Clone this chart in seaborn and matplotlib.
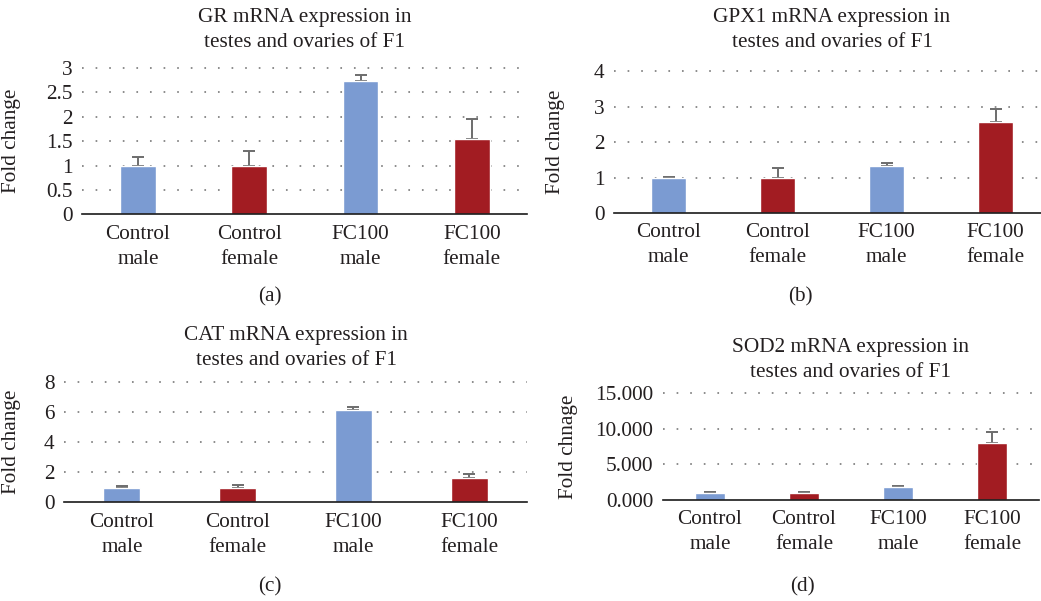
import matplotlib
matplotlib.use("Agg")
import matplotlib.pyplot as plt
import seaborn as sns
import numpy as np

# ---------------- data ----------------
categories = ["Control\nmale", "Control\nfemale", "FC100\nmale", "FC100\nfemale"]
bar_colors = ["#7B9BD2", "#A21C22", "#7B9BD2", "#A21C22"]

gr_values = [1.0, 1.0, 2.73, 1.54]
gr_err = [0.17, 0.30, 0.12, 0.42]
gr_ticks = [0, 0.5, 1, 1.5, 2, 2.5, 3]
gr_ticklabels = ["0", "0.5", "1", "1.5", "2", "2.5", "3"]

gpx1_values = [1.0, 1.0, 1.33, 2.56]
gpx1_err = [0.03, 0.26, 0.09, 0.37]
gpx1_ticks = [0, 1, 2, 3, 4]
gpx1_ticklabels = ["0", "1", "2", "3", "4"]

cat_values = [0.95, 0.95, 6.15, 1.62]
cat_err = [0.15, 0.20, 0.20, 0.25]
cat_ticks = [0, 2, 4, 6, 8]
cat_ticklabels = ["0", "2", "4", "6", "8"]

sod2_values = [1.0, 1.0, 1.8, 8.05]
sod2_err = [0.12, 0.17, 0.20, 1.55]
sod2_ticks = [0, 5, 10, 15]
sod2_ticklabels = ["0.000", "5.000", "10.000", "15.000"]

titles = ["GR mRNA expression in\ntestes and ovaries of F1",
          "GPX1 mRNA expression in\ntestes and ovaries of F1",
          "CAT mRNA expression in\ntestes and ovaries of F1",
          "SOD2 mRNA expression in\ntestes and ovaries of F1"]
ylabels = ["Fold change", "Fold change", "Fold change", "Fold chnage"]
panel_tags = ["(a)", "(b)", "(c)", "(d)"]

# ---------------- style ----------------
sns.set_style("white")
plt.rcParams["font.family"] = ["Liberation Serif", "DejaVu Serif"]
FS = 15.3
TXT = "#231f20"
LSP = 1.42

W, H = 1041, 601
fig = plt.figure(figsize=(W / 100, H / 100), dpi=100)

# layout in pixels: (left, right, y_of_zero, y_of_top)
layouts = [
    (82.4, 527.4, 214.3, 68.0),
    (614.0, 1050.0, 213.0, 71.3),
    (64.0, 527.0, 502.3, 382.0),
    (663.0, 1039.0, 500.0, 393.3),
]
title_pos = [(305, 30), (832, 30), (296, 348), (851, 360)]
tag_pos = [(270, 297), (800, 297), (270, 587), (802, 587)]
ylabel_x = [21, 565, 21, 578]

panels = [
    (gr_values, gr_err, gr_ticks, gr_ticklabels),
    (gpx1_values, gpx1_err, gpx1_ticks, gpx1_ticklabels),
    (cat_values, cat_err, cat_ticks, cat_ticklabels),
    (sod2_values, sod2_err, sod2_ticks, sod2_ticklabels),
]

for i, (vals, errs, ticks, tlabels) in enumerate(panels):
    l, r, y0, yt = layouts[i]
    ax = fig.add_axes([l / W, (H - y0) / H, (r - l) / W, (y0 - yt) / H])
    sns.barplot(x=categories, y=vals, hue=categories, palette=bar_colors,
                width=0.32, errorbar=None, legend=False, ax=ax,
                saturation=1, zorder=3)
    xs = np.arange(len(categories))
    ax.errorbar(xs, vals, yerr=[np.zeros(len(vals)), errs], fmt="none",
                ecolor="#6d6d6d", elinewidth=1.4, capsize=4.3, capthick=1.4,
                zorder=2)
    ax.set_xlim(-0.5, len(categories) - 0.5)
    ax.set_ylim(ticks[0], ticks[-1])
    ax.set_yticks(ticks)
    ax.set_yticklabels(tlabels)
    for t in ticks[1:]:
        ax.axhline(t, color="#6e6e6e", linewidth=1.1,
                   linestyle=(0, (1.1, 7.8)), zorder=1, clip_on=False)
    for s in ["top", "right", "left"]:
        ax.spines[s].set_visible(False)
    ax.spines["bottom"].set_color("#1a1a1a")
    ax.spines["bottom"].set_linewidth(1.2)
    ax.spines["bottom"].set_zorder(4)
    ax.tick_params(axis="both", length=0, labelsize=FS, colors=TXT)
    ax.tick_params(axis="y", pad=7)
    ax.tick_params(axis="x", pad=7.5)
    for lab in ax.get_xticklabels():
        lab.set_linespacing(LSP)
    ax.set_xlabel("")
    ax.set_ylabel(ylabels[i], fontsize=FS, color=TXT)
    ax.yaxis.set_label_coords((ylabel_x[i] - l) / (r - l), 0.5)
    ax.grid(False)

    tx, ty = title_pos[i]
    fig.text(tx / W, 1 - ty / H, titles[i], ha="center", va="center",
             fontsize=FS, color=TXT, linespacing=LSP)
    px, py = tag_pos[i]
    fig.text(px / W, 1 - py / H, panel_tags[i], ha="center", va="center",
             fontsize=FS, color=TXT)

fig.savefig("out.png", dpi=100, facecolor="white")
